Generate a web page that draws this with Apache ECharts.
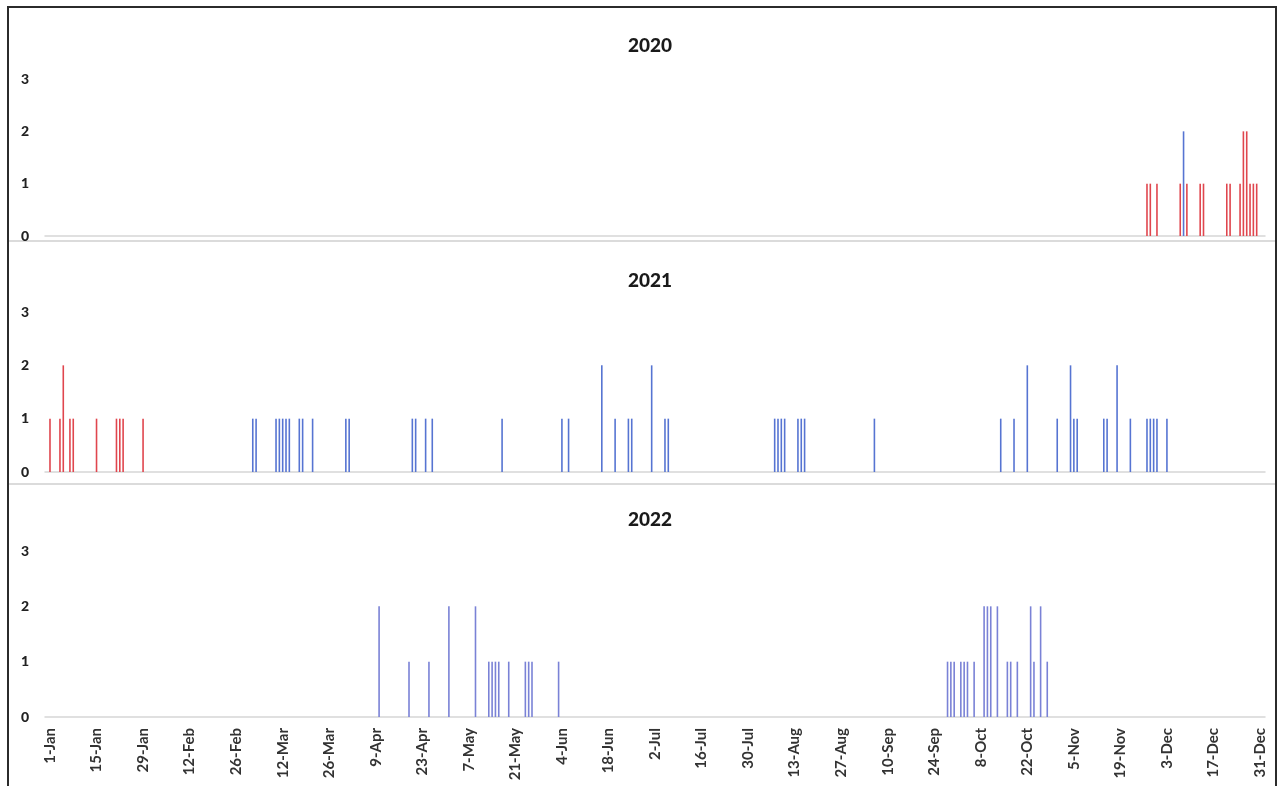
<!DOCTYPE html>
<html>
<head>
<meta charset="utf-8">
<script src="https://cdn.jsdelivr.net/npm/echarts@6/dist/echarts.min.js"></script>
<style>
html,body{margin:0;padding:0;background:#fff;}
#c{width:1279px;height:786px;}
</style>
</head>
<body>
<div id="c"></div>
<script>
// Tick labels (every 14 days from 1-Jan)
const tickLabels = ['1-Jan','15-Jan','29-Jan','12-Feb','26-Feb','12-Mar','26-Mar','9-Apr','23-Apr','7-May','21-May','4-Jun','18-Jun','2-Jul','16-Jul','30-Jul','13-Aug','27-Aug','10-Sep','24-Sep','8-Oct','22-Oct','5-Nov','19-Nov','3-Dec','17-Dec','31-Dec'];
const years = ['2020','2021','2022'];

// Day-of-year (0 = 1-Jan) and counts
const red2020Days   = [330,331,333,340,342,346,347,354,355,358,359,360,361,362,363];
const red2020Vals   = [1,1,1,1,1,1,1,1,1,1,2,2,1,1,1];
const blue2020Days  = [341];
const blue2020Vals  = [2];

const red2021Days   = [0,3,4,6,7,14,20,21,22,28];
const red2021Vals   = [1,1,2,1,1,1,1,1,1,1];
const blue2021Days  = [61,62,68,69,70,71,72,75,76,79,89,90,109,110,113,115,136,154,156,166,170,174,175,181,185,186,218,219,220,221,225,226,227,248,286,290,294,303,307,308,309,317,318,321,325,330,331,332,333,336];
const blue2021Vals  = [1,1,1,1,1,1,1,1,1,1,1,1,1,1,1,1,1,1,1,2,1,1,1,2,1,1,1,1,1,1,1,1,1,1,1,1,2,1,2,1,1,1,1,2,1,1,1,1,1,1];

const red2022Days   = [];
const red2022Vals   = [];
const blue2022Days  = [99,108,114,120,128,132,133,134,135,138,143,144,145,153,270,271,272,274,275,276,278,281,282,283,285,288,289,291,295,296,298,300];
const blue2022Vals  = [2,1,1,2,2,1,1,1,1,1,1,1,1,1,1,1,1,1,1,1,1,2,2,2,2,1,1,1,2,1,2,1];

const yTicks = [0,1,2,3];

const RED = '#e0464e';
const BLUE = '#5674d2';
const BLUE22 = '#7a82d6';

function pairs(days, vals){ return days.map((d,i)=>[d, vals[i]]); }

const panels = [
  {red: pairs(red2020Days, red2020Vals), blue: pairs(blue2020Days, blue2020Vals), blueColor: BLUE, top: 79, height: 157, titleTop: 31},
  {red: pairs(red2021Days, red2021Vals), blue: pairs(blue2021Days, blue2021Vals), blueColor: BLUE, top: 312, height: 160, titleTop: 266},
  {red: pairs(red2022Days, red2022Vals), blue: pairs(blue2022Days, blue2022Vals), blueColor: BLUE22, top: 551, height: 166, titleTop: 505}
];

const tickDays = tickLabels.map((_, i) => i * 14);
const FONT = 'Lato, "Open Sans", sans-serif';

const option = {
  backgroundColor: '#ffffff',
  animation: false,
  title: panels.map((p, i) => ({
    text: years[i],
    left: 645,
    top: p.titleTop,
    textAlign: 'center',
    textStyle: {fontFamily: FONT, fontWeight: 900, fontSize: 19, color: '#1a1a1a'}
  })),
  grid: panels.map(p => ({left: 45, right: 14, top: p.top, height: p.height})),
  xAxis: panels.map((p, i) => ({
    type: 'value',
    gridIndex: i,
    min: -1.5,
    max: 365.5,
    axisLine: {show: true, onZero: false, lineStyle: {color: '#d6d6d6', width: 1.5}},
    axisTick: {show: false},
    splitLine: {show: false},
    axisLabel: i === 2 ? {
      show: true,
      customValues: tickDays,
      rotate: 90,
      margin: 11,
      fontFamily: FONT,
      fontWeight: 'bold',
      fontSize: 15,
      color: '#333',
      formatter: v => tickLabels[Math.round(v / 14)]
    } : {show: false}
  })),
  yAxis: panels.map((p, i) => ({
    type: 'value',
    gridIndex: i,
    min: 0,
    max: 3,
    interval: 1,
    axisLine: {show: false},
    axisTick: {show: false},
    splitLine: {show: false},
    axisLabel: {
      show: true,
      margin: 16,
      fontFamily: FONT,
      fontWeight: 900,
      fontSize: 14,
      color: '#222',
      formatter: v => yTicks.includes(v) ? String(v) : ''
    }
  })),
  series: panels.flatMap((p, i) => [
    {type: 'bar', xAxisIndex: i, yAxisIndex: i, data: p.red, barWidth: 1.6, barGap: '-100%',
     itemStyle: {color: RED}},
    {type: 'bar', xAxisIndex: i, yAxisIndex: i, data: p.blue, barWidth: 1.6, barGap: '-100%',
     itemStyle: {color: p.blueColor}}
  ]),
  graphic: [
    {type: 'line', shape: {x1: 9, y1: 241, x2: 1276, y2: 241}, style: {stroke: '#cfcfcf', lineWidth: 1.5}, silent: true},
    {type: 'line', shape: {x1: 9, y1: 484, x2: 1276, y2: 484}, style: {stroke: '#cfcfcf', lineWidth: 1.5}, silent: true},
    {type: 'rect', shape: {x: 8, y: 7, width: 1268, height: 790}, style: {fill: 'none', stroke: '#2b2b2b', lineWidth: 2}, silent: true}
  ]
};

const chart = echarts.init(document.getElementById('c'), null, {renderer: 'canvas'});
chart.setOption(option);
</script>
</body>
</html>
